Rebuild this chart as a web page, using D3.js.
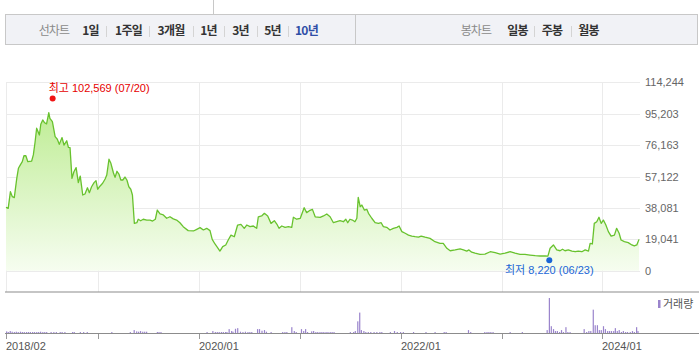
<!DOCTYPE html>
<html><head><meta charset="utf-8">
<script src="https://cdn.jsdelivr.net/npm/d3@7/dist/d3.min.js"></script>
<style>body{margin:0;background:#fff}svg{display:block}</style>
</head><body><svg id="c" width="699" height="354"></svg>
<script>
// ---------- data ----------
const closeDates = ["2018-02-01","2018-02-09","2018-02-17","2018-02-24","2018-03-03","2018-03-12","2018-03-18","2018-03-26","2018-04-01","2018-04-07","2018-04-14","2018-04-21","2018-05-05","2018-05-11","2018-05-17","2018-05-23","2018-06-02","2018-06-07","2018-06-14","2018-06-21","2018-06-28","2018-07-06","2018-07-10","2018-07-19","2018-07-29","2018-08-06","2018-08-13","2018-08-23","2018-08-30","2018-09-09","2018-09-15","2018-09-21","2018-09-28","2018-10-05","2018-10-13","2018-10-21","2018-10-28","2018-11-06","2018-11-14","2018-11-23","2018-11-30","2018-12-08","2018-12-17","2018-12-24","2018-12-30","2019-01-08","2019-01-17","2019-01-26","2019-02-01","2019-02-09","2019-02-16","2019-02-25","2019-03-03","2019-03-10","2019-03-17","2019-03-24","2019-03-31","2019-04-08","2019-04-15","2019-04-22","2019-04-29","2019-05-05","2019-05-12","2019-05-21","2019-05-26","2019-06-04","2019-06-13","2019-06-26","2019-07-08","2019-07-17","2019-07-27","2019-08-03","2019-08-13","2019-08-25","2019-09-06","2019-09-18","2019-09-30","2019-10-12","2019-10-24","2019-11-05","2019-11-23","2019-12-12","2019-12-24","2020-01-05","2020-01-17","2020-01-29","2020-02-10","2020-02-18","2020-02-28","2020-03-09","2020-03-17","2020-03-27","2020-04-07","2020-04-16","2020-04-26","2020-05-08","2020-05-20","2020-06-01","2020-06-13","2020-06-22","2020-07-04","2020-07-16","2020-07-28","2020-08-03","2020-08-15","2020-08-25","2020-09-06","2020-09-18","2020-09-30","2020-10-09","2020-10-17","2020-10-27","2020-11-08","2020-11-20","2020-12-02","2020-12-08","2020-12-20","2021-01-02","2021-01-16","2021-01-25","2021-02-04","2021-02-15","2021-02-25","2021-03-15","2021-03-27","2021-04-08","2021-04-20","2021-05-02","2021-05-14","2021-05-26","2021-06-07","2021-06-16","2021-06-23","2021-07-01","2021-07-10","2021-07-19","2021-07-26","2021-07-31","2021-08-07","2021-08-13","2021-08-22","2021-08-31","2021-09-06","2021-09-18","2021-09-30","2021-10-12","2021-10-22","2021-10-30","2021-11-11","2021-11-23","2021-12-05","2021-12-18","2021-12-26","2022-01-05","2022-01-17","2022-01-29","2022-02-10","2022-02-22","2022-03-06","2022-03-16","2022-03-30","2022-04-17","2022-05-05","2022-05-23","2022-06-04","2022-06-17","2022-06-29","2022-07-17","2022-08-04","2022-08-16","2022-08-28","2022-09-05","2022-09-15","2022-09-27","2022-10-15","2022-11-02","2022-11-21","2022-12-09","2022-12-27","2023-01-14","2023-02-01","2023-02-19","2023-03-09","2023-03-27","2023-04-14","2023-05-03","2023-05-21","2023-06-08","2023-06-18","2023-06-26","2023-07-08","2023-07-20","2023-08-01","2023-08-10","2023-08-19","2023-08-31","2023-09-13","2023-09-25","2023-10-06","2023-10-19","2023-10-31","2023-11-12","2023-11-18","2023-11-26","2023-12-03","2023-12-12","2023-12-20","2023-12-28","2024-01-05","2024-01-14","2024-01-23","2024-02-02","2024-02-14","2024-02-22","2024-03-02","2024-03-09","2024-03-21","2024-04-04","2024-04-17","2024-04-26","2024-05-05","2024-05-13"];
const closeValues = [38400,37800,47900,44900,44300,56000,62100,64500,66100,69700,69700,66100,66500,70200,77600,86400,82300,88800,91400,89700,89000,95800,92400,90400,81300,79700,76600,80700,76200,78800,74800,74600,56000,60000,62500,53400,57400,45900,46500,50300,47300,50900,53400,54600,49400,51400,53000,55600,58000,67600,65100,59400,56600,60300,58600,55000,55000,56800,55000,50900,49400,45900,28700,29100,31200,30300,31200,30700,30700,30100,31200,36800,34400,33800,31800,32700,31400,30700,29100,26700,24300,24100,25100,26100,24700,25700,24300,19000,16200,13900,11900,14600,15600,18600,21600,20600,27700,28100,25700,27700,26700,27100,25700,32700,33200,34800,33200,28700,30300,28300,25700,27100,26300,26700,26300,32400,31200,31800,38200,35200,36400,37200,32700,32300,33200,34400,32700,29100,29700,30300,29700,31200,29100,31200,30700,29700,31800,44500,38800,39800,36800,37200,34800,31800,29100,28700,29100,26700,26300,24700,25700,26300,27100,23700,22700,21600,21000,20600,20300,21000,20300,19600,17600,16600,16600,13600,12100,12600,13200,12600,11900,12600,11200,10600,9900,10100,11500,10900,10100,10600,11500,10600,9900,9900,9500,9100,8900,8900,8800,13600,15600,12600,12100,13000,12100,12600,11900,11500,11900,11500,12600,11900,16600,16200,28700,29700,32400,28700,30700,27700,23700,21000,21600,25700,22700,18600,17600,17000,15600,15000,15600,19000];

const volDates = ["2018-02-03","2018-02-09","2018-02-16","2018-02-23","2018-03-03","2018-03-10","2018-03-17","2018-03-25","2018-04-01","2018-04-08","2018-04-16","2018-04-23","2018-04-30","2018-05-08","2018-05-15","2018-05-23","2018-05-30","2018-06-06","2018-06-14","2018-06-21","2018-06-28","2018-07-14","2018-07-24","2018-08-02","2018-08-16","2018-08-23","2018-09-02","2018-09-30","2018-10-06","2018-10-28","2018-11-09","2018-11-22","2019-02-19","2019-04-27","2019-05-11","2019-05-20","2019-05-27","2019-06-03","2019-06-11","2019-06-18","2019-06-25","2019-08-03","2019-08-09","2019-08-16","2020-01-30","2020-02-20","2020-02-29","2020-03-07","2020-03-14","2020-03-22","2020-03-29","2020-04-06","2020-04-11","2020-04-19","2020-04-28","2020-05-03","2020-05-12","2020-05-20","2020-05-30","2020-06-08","2020-06-17","2020-06-26","2020-07-03","2020-07-10","2020-07-31","2020-08-07","2020-08-16","2020-08-25","2020-09-01","2020-09-18","2020-10-30","2020-11-07","2020-11-14","2020-12-02","2020-12-11","2020-12-18","2021-01-06","2021-01-14","2021-01-21","2021-01-28","2021-02-12","2021-02-19","2021-02-27","2021-03-06","2021-03-14","2021-03-21","2021-03-28","2021-04-05","2021-04-12","2021-04-20","2021-04-27","2021-05-04","2021-07-02","2021-07-14","2021-07-20","2021-07-29","2021-08-05","2021-08-11","2021-08-20","2021-08-27","2021-09-05","2021-09-14","2021-09-26","2021-10-06","2021-10-17","2021-10-24","2021-11-24","2021-12-09","2021-12-19","2021-12-31","2022-01-10","2022-02-16","2022-04-02","2022-05-05","2022-06-07","2022-06-14","2022-09-03","2022-09-11","2022-11-01","2022-11-09","2022-11-16","2022-11-23","2022-12-01","2023-02-01","2023-03-17","2023-06-15","2023-06-23","2023-06-30","2023-07-08","2023-07-15","2023-07-22","2023-07-30","2023-08-06","2023-08-13","2023-08-22","2023-08-29","2023-09-06","2023-10-27","2023-11-05","2023-11-13","2023-11-20","2023-11-29","2023-12-06","2023-12-14","2023-12-21","2023-12-28","2024-01-05","2024-01-12","2024-01-20","2024-01-27","2024-02-03","2024-02-11","2024-02-17","2024-02-24","2024-03-02","2024-03-10","2024-03-17","2024-03-25","2024-04-01","2024-04-11","2024-04-19","2024-04-26","2024-05-04","2024-05-09"];
const volValues = [50,30,60,40,30,40,30,40,30,30,30,30,30,30,30,30,30,40,30,30,30,30,30,30,30,30,30,30,30,30,30,30,30,30,90,50,40,60,40,40,40,30,30,30,30,60,30,30,30,30,30,30,30,120,60,40,130,150,40,30,40,30,30,30,120,120,70,90,40,30,30,30,30,180,60,30,120,60,120,30,50,60,30,30,30,30,30,30,30,30,30,30,30,30,60,360,630,90,60,30,30,30,30,30,30,30,30,60,30,30,30,30,30,30,30,30,90,30,30,30,30,30,30,30,30,90,1080,210,120,60,60,30,90,30,180,30,30,120,30,60,60,720,240,240,90,90,210,120,60,60,60,60,150,60,90,30,60,30,30,30,60,30,180,60];

const yTickValues = [0,19041,38081,57122,76163,95203,114244];
const xTickDates = ["2018-02-01","2019-01-01","2020-01-01","2021-01-01","2022-01-01","2023-01-01","2024-01-01"];
const xTickLabels = ["2018/02","","2020/01","","2022/01","","2024/01"];

const highPoint = {date:"2018-07-20", value:102569, label:"07/20"};
const lowPoint  = {date:"2023-06-23", value:8220,  label:"06/23"};

const periodTabs = ["1일","1주일","3개월","1년","3년","5년","10년"];
const candleTabs = ["일봉","주봉","월봉"];

// ---------- drawing ----------
const parse = d3.utcParse("%Y-%m-%d");
const svg = d3.select("#c");
const fmt = d3.format(",");
const NUMFONT = "'Liberation Sans', Arial, 'Noto Sans CJK KR', sans-serif";

const data = closeDates.map((d,i)=>({date:parse(d), value:closeValues[i]}));
const vol = volDates.map((d,i)=>({date:parse(d), value:volValues[i]}));

const x = d3.scaleUtc().domain([parse(closeDates[0]), parse(closeDates[closeDates.length-1])]).range([6,639]);
const y = d3.scaleLinear().domain([0,114244]).range([270.7,82.3]);
const yv = d3.scaleLinear().domain([0,1265]).range([333,292]);

// toolbar
svg.append("line").attr("x1",213.5).attr("x2",213.5).attr("y1",0).attr("y2",14).attr("stroke","#c8c8c8");
svg.append("rect").attr("x",5.5).attr("y",14.5).attr("width",692).attr("height",30)
  .attr("fill","#f1f2f6").attr("stroke","#c8c8c8");
svg.append("line").attr("x1",355.5).attr("x2",355.5).attr("y1",14.5).attr("y2",44.5).attr("stroke","#c8c8c8");

const tb = svg.append("g").attr("font-family","'Noto Sans CJK KR', sans-serif").attr("font-size",12).attr("letter-spacing","-0.8px");
tb.append("text").attr("x",54).attr("y",35).attr("text-anchor","middle").attr("fill","#8a8a8a").text("선차트");
const tabCenters = [90.5,128.5,171,208.5,240.5,272.5,306.5];
const tabSeps = [106,149,193,224,257,288];
periodTabs.forEach((t,i)=>{
  tb.append("text").attr("x",tabCenters[i]).attr("y",35).attr("text-anchor","middle")
    .attr("font-weight","bold").attr("fill", i===periodTabs.length-1 ? "#2f4ea6" : "#333").text(t);
});
tabSeps.forEach(s=>tb.append("line").attr("x1",s+0.5).attr("x2",s+0.5).attr("y1",26).attr("y2",37).attr("stroke","#d4d4d4"));
tb.append("text").attr("x",476).attr("y",35).attr("text-anchor","middle").attr("fill","#8a8a8a").text("봉차트");
const cCenters = [517.5,552,588.5];
candleTabs.forEach((t,i)=>{
  tb.append("text").attr("x",cCenters[i]).attr("y",35).attr("text-anchor","middle")
    .attr("font-weight","bold").attr("fill","#333").text(t);
});
[534,571].forEach(s=>tb.append("line").attr("x1",s+0.5).attr("x2",s+0.5).attr("y1",26).attr("y2",37).attr("stroke","#d4d4d4"));

// grid
const grid = svg.append("g");
yTickValues.forEach(v=>{
  grid.append("line").attr("x1",6).attr("x2",640).attr("y1",Math.round(y(v))+0.5).attr("y2",Math.round(y(v))+0.5)
    .attr("stroke","#ebebeb");
});
xTickDates.forEach(d=>{
  const xx = Math.round(x(parse(d)))+0.5;
  grid.append("line").attr("x1",xx).attr("x2",xx).attr("y1",82).attr("y2",292).attr("stroke","#ebebeb");
});

// area + line
const defs = svg.append("defs");
const grad = defs.append("linearGradient").attr("id","g1").attr("gradientUnits","userSpaceOnUse")
  .attr("x1",0).attr("x2",0).attr("y1",y(100000)).attr("y2",y(0));
grad.append("stop").attr("offset","0").attr("stop-color","#bdec92");
grad.append("stop").attr("offset","1").attr("stop-color","#f6fdf0");

svg.append("path").datum(data)
  .attr("d", d3.area().x(d=>x(d.date)).y0(y(0)).y1(d=>y(d.value)))
  .attr("fill","url(#g1)");
svg.append("path").datum(data)
  .attr("d", d3.line().x(d=>x(d.date)).y(d=>y(d.value)))
  .attr("fill","none").attr("stroke","#68c22e").attr("stroke-width",1.3).attr("stroke-linejoin","round");

// y labels
const yl = svg.append("g").attr("font-family",NUMFONT).attr("font-size",11).attr("fill","#666");
yTickValues.forEach(v=>{
  yl.append("text").attr("x",645).attr("y",y(v)+4).text(fmt(v));
});

// high / low
const hx = x(parse(highPoint.date)), hy = y(highPoint.value)-3;
svg.append("circle").attr("cx",hx).attr("cy",hy).attr("r",3).attr("fill","#f01414");
svg.append("text").attr("x",hx-4).attr("y",hy-7).attr("font-family",NUMFONT).attr("font-size",11)
  .attr("fill","#e60000").text("최고 "+fmt(highPoint.value)+" ("+highPoint.label+")");
const lx = x(parse(lowPoint.date)), ly = y(lowPoint.value)+3;
svg.append("circle").attr("cx",lx).attr("cy",ly).attr("r",3).attr("fill","#1a66d6");
svg.append("text").attr("x",lx).attr("y",ly+14).attr("text-anchor","middle").attr("font-family",NUMFONT).attr("font-size",11)
  .attr("fill","#1a66d6").text("최저 "+fmt(lowPoint.value)+" ("+lowPoint.label+")");

// volume panel
svg.append("line").attr("x1",5).attr("x2",699).attr("y1",292).attr("y2",292).attr("stroke","#8c8c8c").attr("stroke-width",1.2);
svg.append("g").selectAll("rect").data(vol).join("rect")
  .attr("x",d=>x(d.date)-0.5).attr("width",1.2)
  .attr("y",d=>yv(d.value)).attr("height",d=>yv(0)-yv(d.value))
  .attr("fill","#9a84cc");
svg.append("line").attr("x1",5).attr("x2",699).attr("y1",333.5).attr("y2",333.5).attr("stroke","#8c8c8c").attr("stroke-width",1.2);

// x axis ticks + labels
const xa = svg.append("g").attr("font-family",NUMFONT).attr("font-size",11).attr("fill","#555");
xTickDates.forEach((d,i)=>{
  const xx = Math.round(x(parse(d)))+0.5;
  xa.append("line").attr("x1",xx).attr("x2",xx).attr("y1",334).attr("y2",339).attr("stroke","#999");
  if (xTickLabels[i]) xa.append("text").attr("x",xx-0.5).attr("y",350).text(xTickLabels[i]);
});

// legend
svg.append("rect").attr("x",658).attr("y",300).attr("width",2.5).attr("height",8).attr("fill","#9a84cc");
svg.append("text").attr("x",663).attr("y",308).attr("font-family",NUMFONT).attr("font-size",11).attr("fill","#555").text("거래량");
</script></body></html>
